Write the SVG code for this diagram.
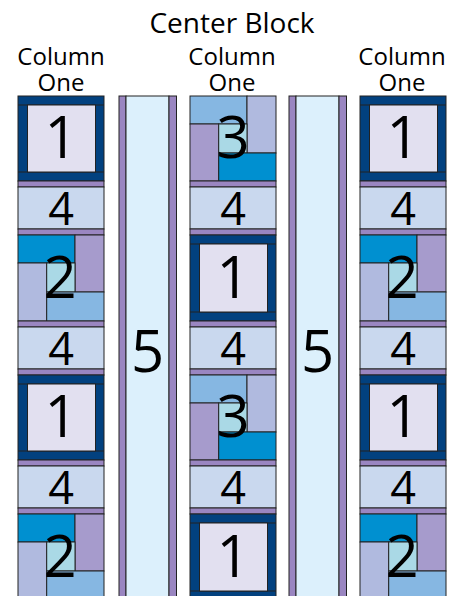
<svg xmlns="http://www.w3.org/2000/svg" xmlns:xlink="http://www.w3.org/1999/xlink" width="456" height="596" viewBox="0 0 456 596">
<style>
.s{stroke:#222;stroke-width:1}
.t{font-family:"Open Sans","Liberation Sans",sans-serif;fill:#000;text-anchor:middle}
.lab{font-size:24px}
.ttl{font-size:28px}
.big{font-size:58px}
.mid{font-size:45px}
.dk{fill:#02417f}
.lv{fill:#e2e0f0}
.pp{fill:#9a86c1}
.f4{fill:#c9d8ee}
.f5{fill:#dcf0fc}
.cy{fill:#0090d0}
.pu{fill:#a69bcc}
.la{fill:#b0badf}
.lc{fill:#aad9e6}
.lb{fill:#86b7e2}
</style>
<defs>
<g id="blk1">
<rect class="s dk" x="0" y="0" width="86" height="85"/>
<line class="s" x1="0" y1="9" x2="86" y2="9"/>
<line class="s" x1="0" y1="76" x2="86" y2="76"/>
<rect class="s lv" x="9.5" y="9" width="68" height="67"/>
<text class="t big" x="43" y="62">1</text>
</g>
<g id="blk1b">
<rect class="s dk" x="0" y="0" width="86" height="86"/>
<line class="s" x1="0" y1="9" x2="86" y2="9"/>
<line class="s" x1="0" y1="77" x2="86" y2="77"/>
<rect class="s lv" x="9.5" y="9" width="68" height="68"/>
<text class="t big" x="43" y="63">1</text>
</g>
<g id="blk2">
<rect class="s cy" x="0" y="0" width="57" height="28"/>
<rect class="s pu" x="57" y="0" width="29" height="57"/>
<rect class="s la" x="0" y="28" width="28.7" height="58"/>
<rect class="s lc" x="28.7" y="28" width="28.3" height="29"/>
<rect class="s lb" x="28.7" y="57" width="57.3" height="29"/>
<text class="t big" x="42" y="63">2</text>
</g>
<g id="blk3">
<rect class="s lb" x="0" y="0" width="57" height="28"/>
<rect class="s la" x="57" y="0" width="29" height="57"/>
<rect class="s pu" x="0" y="28" width="28.7" height="57"/>
<rect class="s lc" x="28.7" y="28" width="28.3" height="29"/>
<rect class="s cy" x="28.7" y="57" width="57.3" height="28"/>
<text class="t big" x="43" y="62">3</text>
</g>
<g id="blk4">
<rect class="s f4" x="0" y="0" width="86" height="42"/>
<text class="t mid" x="43" y="38">4</text>
</g>
<rect id="sash" class="s pp" x="0" y="0" width="86" height="6"/>
<g id="strip">
<rect class="s pp" x="0" y="0" width="7" height="510"/>
<rect class="s f5" x="7" y="0" width="43" height="510"/>
<rect class="s pp" x="50" y="0" width="7.5" height="510"/>
<text class="t big" x="28.5" y="275.5">5</text>
</g>
</defs>

<g id="labels">
<text class="t ttl" x="232" y="33">Center Block</text>
<text class="t lab" x="61" y="65">Column</text>
<text class="t lab" x="61" y="91">One</text>
<text class="t lab" x="232" y="65">Column</text>
<text class="t lab" x="232" y="91">One</text>
<text class="t lab" x="402" y="65">Column</text>
<text class="t lab" x="402" y="91">One</text>
</g>

<g id="strip-left" transform="translate(119,96)"><use href="#strip"/></g>
<g id="strip-right" transform="translate(289,96)"><use href="#strip"/></g>

<g id="col-left" transform="translate(18,0)">
<g id="l-b1a" transform="translate(0,96)"><use href="#blk1"/></g>
<g id="l-s1" transform="translate(0,181)"><use href="#sash"/></g>
<g id="l-b4a" transform="translate(0,187)"><use href="#blk4"/></g>
<g id="l-s2" transform="translate(0,229)"><use href="#sash"/></g>
<g id="l-b2a" transform="translate(0,235)"><use href="#blk2"/></g>
<g id="l-s3" transform="translate(0,321)"><use href="#sash"/></g>
<g id="l-b4b" transform="translate(0,327)"><use href="#blk4"/></g>
<g id="l-s4" transform="translate(0,369)"><use href="#sash"/></g>
<g id="l-b1b" transform="translate(0,375)"><use href="#blk1"/></g>
<g id="l-s5" transform="translate(0,460)"><use href="#sash"/></g>
<g id="l-b4c" transform="translate(0,466)"><use href="#blk4"/></g>
<g id="l-s6" transform="translate(0,508)"><use href="#sash"/></g>
<g id="l-b2b" transform="translate(0,514)"><use href="#blk2"/></g>
</g>

<g id="col-center" transform="translate(190,0)">
<g id="c-b3a" transform="translate(0,96)"><use href="#blk3"/></g>
<g id="c-s1" transform="translate(0,181)"><use href="#sash"/></g>
<g id="c-b4a" transform="translate(0,187)"><use href="#blk4"/></g>
<g id="c-s2" transform="translate(0,229)"><use href="#sash"/></g>
<g id="c-b1a" transform="translate(0,235)"><use href="#blk1b"/></g>
<g id="c-s3" transform="translate(0,321)"><use href="#sash"/></g>
<g id="c-b4b" transform="translate(0,327)"><use href="#blk4"/></g>
<g id="c-s4" transform="translate(0,369)"><use href="#sash"/></g>
<g id="c-b3b" transform="translate(0,375)"><use href="#blk3"/></g>
<g id="c-s5" transform="translate(0,460)"><use href="#sash"/></g>
<g id="c-b4c" transform="translate(0,466)"><use href="#blk4"/></g>
<g id="c-s6" transform="translate(0,508)"><use href="#sash"/></g>
<g id="c-b1b" transform="translate(0,514)"><use href="#blk1b"/></g>
</g>

<g id="col-right" transform="translate(360,0)">
<g id="r-b1a" transform="translate(0,96)"><use href="#blk1"/></g>
<g id="r-s1" transform="translate(0,181)"><use href="#sash"/></g>
<g id="r-b4a" transform="translate(0,187)"><use href="#blk4"/></g>
<g id="r-s2" transform="translate(0,229)"><use href="#sash"/></g>
<g id="r-b2a" transform="translate(0,235)"><use href="#blk2"/></g>
<g id="r-s3" transform="translate(0,321)"><use href="#sash"/></g>
<g id="r-b4b" transform="translate(0,327)"><use href="#blk4"/></g>
<g id="r-s4" transform="translate(0,369)"><use href="#sash"/></g>
<g id="r-b1b" transform="translate(0,375)"><use href="#blk1"/></g>
<g id="r-s5" transform="translate(0,460)"><use href="#sash"/></g>
<g id="r-b4c" transform="translate(0,466)"><use href="#blk4"/></g>
<g id="r-s6" transform="translate(0,508)"><use href="#sash"/></g>
<g id="r-b2b" transform="translate(0,514)"><use href="#blk2"/></g>
</g>
</svg>
